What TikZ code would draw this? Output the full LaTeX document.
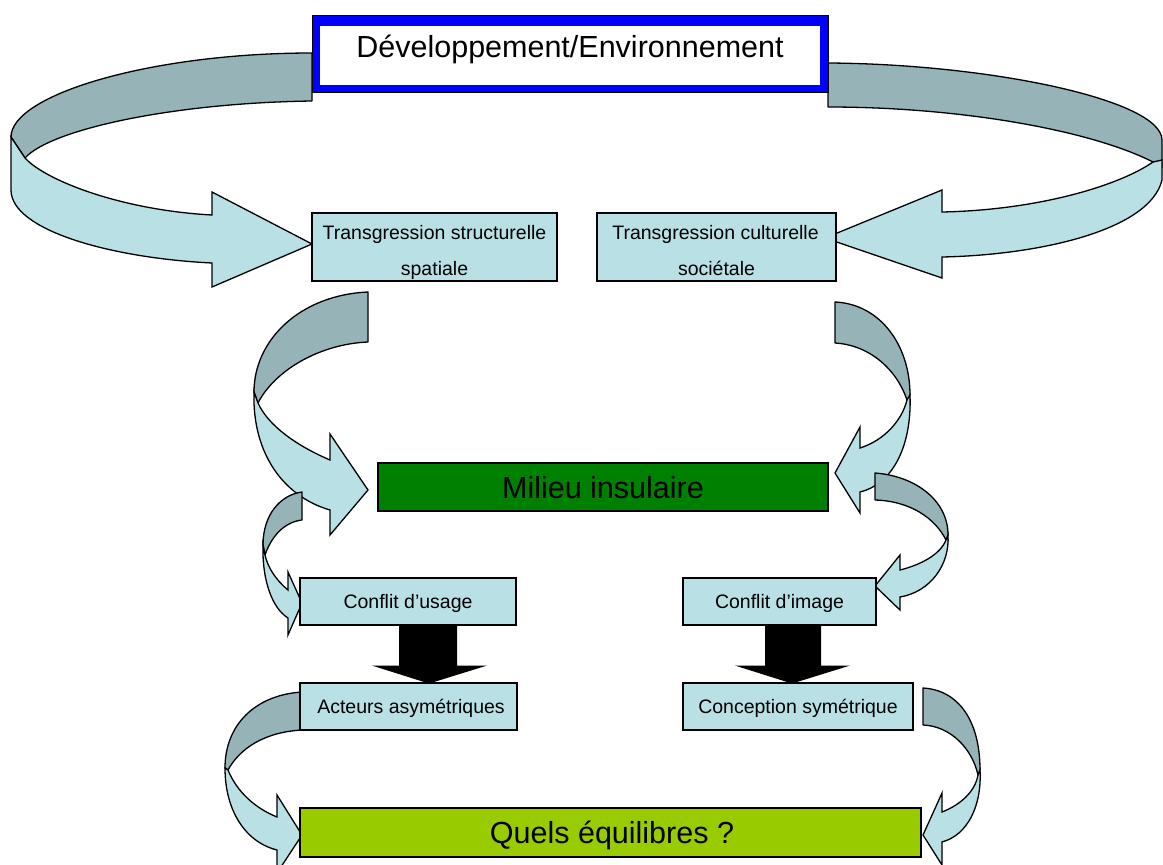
\documentclass[tikz,border=0pt]{standalone}
\usepackage{fontspec}
\setmainfont{Liberation Sans}
\usetikzlibrary{calc}
\definecolor{arrlight}{RGB}{185,224,228}
\definecolor{arrgray}{RGB}{150,179,183}
\definecolor{boxfill}{RGB}{185,224,228}
\definecolor{milgreen}{RGB}{0,128,0}
\definecolor{quelsgreen}{RGB}{153,204,0}
\begin{document}
\begin{tikzpicture}[x=1pt,y=-1pt,
  back/.style={fill=arrgray,draw=black,line width=1.3pt,line join=round},
  front/.style={fill=arrlight,draw=black,line width=1.3pt,line join=miter},
  box/.style={draw=black,line width=1.1pt,fill=boxfill,inner sep=0pt},
  small/.style={font=\fontsize{19.5}{23}\selectfont,inner sep=0pt},
  big/.style={font=\fontsize{30.5}{36}\selectfont,inner sep=0pt},
]
\clip (0,0) rectangle (1163,865);
\fill[white] (0,0) rectangle (1163,865);

% big left arrow
\draw[back] (312,53) .. controls (150,53) and (11,95) .. (11,137) -- (25,158)
  .. controls (50,130) and (170,103) .. (312,101) -- cycle;
\draw[front] (11,137) -- (11,190) .. controls (11,230) and (110,258) .. (212,263)
  -- (212,287) -- (312,244) -- (212,192) -- (212,215)
  .. controls (120,210) and (45,180) .. (25,158) -- cycle;

% big right arrow
\draw[back] (828,63) .. controls (990,64) and (1162,100) .. (1162,140) -- (1162,167)
  -- (1153,162) .. controls (1090,130) and (960,107) .. (828,107) -- cycle;
\draw[front] (1162,160) -- (1162,180) .. controls (1150,230) and (1040,255) .. (942,257)
  -- (942,278) -- (825,238) -- (942,190) -- (942,212)
  .. controls (1040,210) and (1120,185) .. (1153,162) -- cycle;

% top box
\node[draw=black,line width=0.8pt,fill=blue,minimum width=516,minimum height=77,inner sep=0pt] (top) at (570,53.5) {};
\fill[white] (320,26) rectangle (820,85);
\node[big,anchor=base] (toptxt) at (570,57) {Développement/Environnement};

% middle left arrow
\draw[back] (368,292) .. controls (300,295) and (254,340) .. (254,392) -- (258,403)
  .. controls (275,370) and (320,344) .. (368,342) -- cycle;
\draw[front] (254,392) .. controls (252,455) and (285,497) .. (330,510) -- (330,535)
  -- (368,490) -- (330,434) -- (330,460)
  .. controls (295,445) and (268,425) .. (258,403) -- cycle;

% middle right arrow
\draw[back] (835,302) .. controls (880,304) and (910,345) .. (910,395) -- (907,400)
  .. controls (897,370) and (870,345) .. (835,343) -- cycle;
\draw[front] (910,395) .. controls (912,450) and (890,485) .. (860,492) -- (860,513)
  -- (835,473) -- (860,427) -- (860,448)
  .. controls (885,440) and (902,420) .. (907,400) -- cycle;

% small left arrow
\draw[back] (302,492) .. controls (280,495) and (263,515) .. (263,545) -- (265,555)
  .. controls (272,535) and (285,522) .. (302,520) -- cycle;
\draw[front] (263,545) .. controls (262,580) and (272,608) .. (288,618) -- (288,635)
  -- (302,603) -- (288,572) -- (288,590)
  .. controls (276,580) and (268,568) .. (265,555) -- cycle;

% small right arrow
\draw[back] (875,473) .. controls (915,476) and (948,500) .. (948,535) -- (946,540)
  .. controls (935,518) and (910,501) .. (875,500) -- cycle;
\draw[front] (948,535) .. controls (950,565) and (930,592) .. (900,597) -- (900,610)
  -- (875,586) -- (900,555) -- (900,570)
  .. controls (920,565) and (940,555) .. (946,540) -- cycle;

% bottom left arrow
\draw[back] (302,692) .. controls (255,695) and (225,725) .. (225,768) -- (228,770)
  .. controls (240,748) and (265,732) .. (302,730) -- cycle;
\draw[front] (225,768) .. controls (225,810) and (245,842) .. (277,850) -- (277,873)
  -- (302,835) -- (277,795) -- (277,817)
  .. controls (255,808) and (237,792) .. (228,770) -- cycle;

% bottom right arrow
\draw[back] (923,688) .. controls (958,690) and (980,720) .. (980,770) -- (978,775)
  .. controls (972,748) and (950,726) .. (923,725) -- cycle;
\draw[front] (980,770) .. controls (982,805) and (968,835) .. (942,842) -- (942,865)
  -- (923,835) -- (942,793) -- (942,812)
  .. controls (960,805) and (975,792) .. (978,775) -- cycle;

% boxes
\node[box,minimum width=245,minimum height=68] (ts) at (434.5,247) {};
\node[small,anchor=base] (ts1) at (434.5,239) {Transgression structurelle};
\node[small,anchor=base] (ts2) at (434.5,275) {spatiale};

\node[box,minimum width=239,minimum height=68] (tc) at (716.5,247) {};
\node[small,anchor=base] (tc1) at (715.5,239) {Transgression culturelle};
\node[small,anchor=base] (tc2) at (716.5,275) {sociétale};

\node[box,fill=milgreen,minimum width=450,minimum height=48] (mi) at (603,487) {};
\node[big,anchor=base] (mitxt) at (603,498) {Milieu insulaire};

% black arrows
\fill[black] ($(mi.south)+(-204,114)$) -- ++(58,0) -- ++(0,40) -- ++(30,0)
  -- ++(-58,18) -- ++(-57,-18) -- ++(27,0) -- cycle;
\fill[black] ($(mi.south)+(162,114)$) -- ++(56,0) -- ++(0,40) -- ++(29,0)
  -- ++(-58,18) -- ++(-57,-18) -- ++(30,0) -- cycle;

\node[box,minimum width=216,minimum height=47] (cu) at (408,601.5) {};
\node[small,anchor=base] (cutxt) at (408,608) {Conflit d’usage};
\node[box,minimum width=193,minimum height=47] (ci) at (779.5,601.5) {};
\node[small,anchor=base] (citxt) at (779.5,608) {Conflit d’image};

\node[box,minimum width=217,minimum height=47] (aa) at (408.5,706.5) {};
\node[small,anchor=base] (aatxt) at (411,713) {Acteurs asymétriques};
\node[box,minimum width=230,minimum height=47] (cs) at (798,706.5) {};
\node[small,anchor=base] (cstxt) at (798,713) {Conception symétrique};

\node[box,fill=quelsgreen,minimum width=621,minimum height=49] (qe) at (610.5,832.5) {};
\node[big,anchor=base] (qetxt) at (612,843) {Quels équilibres ?};
\end{tikzpicture}
\end{document}
